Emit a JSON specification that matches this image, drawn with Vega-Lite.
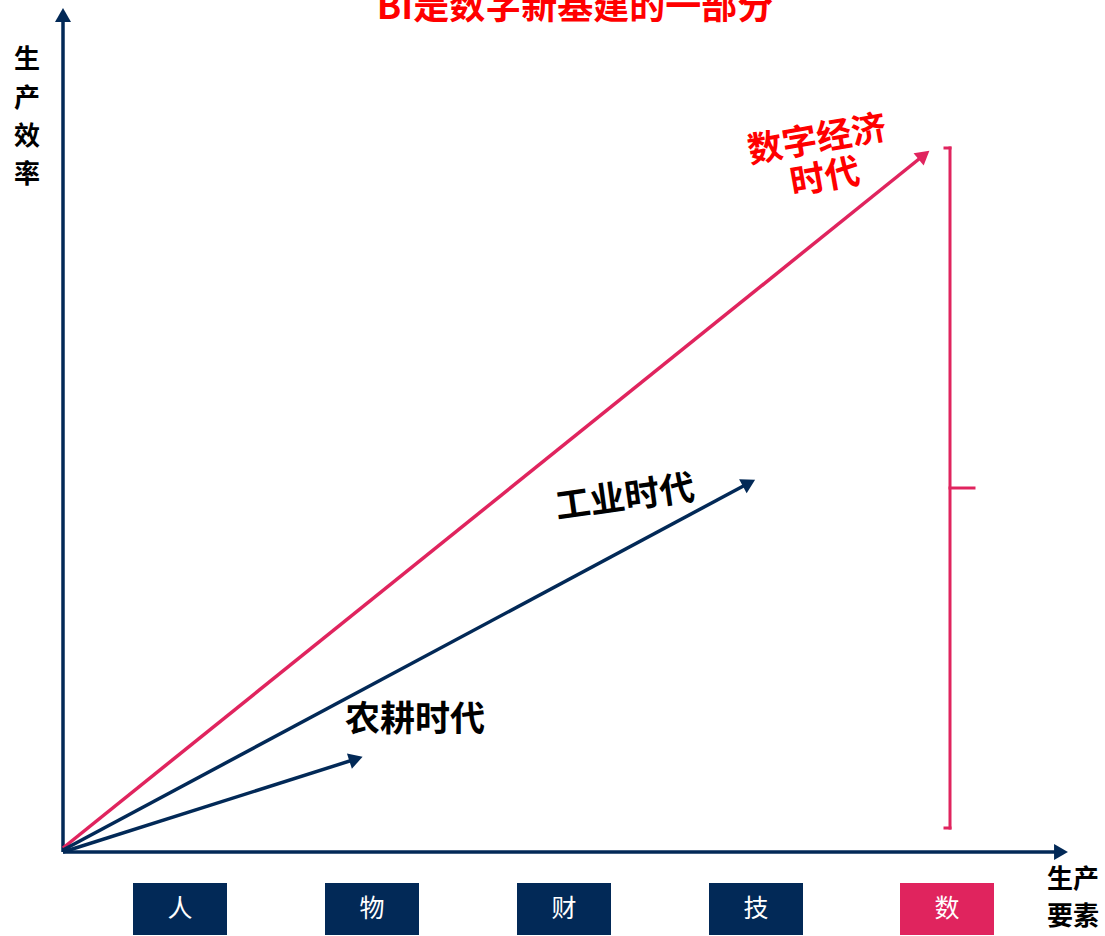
{
  "$schema": "https://vega.github.io/schema/vega-lite/v6.json",
  "autosize": {"type": "none"},
  "width": 1105,
  "height": 936,
  "padding": 0,
  "background": "#ffffff",
  "config": {"view": {"stroke": null}},
  "datasets": {
    "lines": [
      {"part": "生产效率轴", "era": "传统", "x": 0, "y": 0, "x2": 0, "y2": 837, "dir": 0},
      {"part": "生产要素轴", "era": "传统", "x": 0, "y": 0, "x2": 998, "y2": 0, "dir": 90},
      {"part": "数字经济时代", "era": "数字", "x": 0, "y": 4, "x2": 861, "y2": 697, "dir": 51},
      {"part": "工业时代", "era": "传统", "x": 0, "y": 2, "x2": 686, "y2": 369, "dir": 62},
      {"part": "农耕时代", "era": "传统", "x": 0, "y": 0, "x2": 293, "y2": 93, "dir": 72}
    ],
    "bracket": [
      {"x": 887, "y": 24, "x2": 887, "y2": 704},
      {"x": 882, "y": 704, "x2": 887, "y2": 704},
      {"x": 882, "y": 24, "x2": 887, "y2": 24},
      {"x": 887, "y": 364, "x2": 911, "y2": 364}
    ],
    "factors": [
      {"label": "人", "era": "传统", "x": 70, "x2": 164, "cx": 117, "y": -31, "y2": -83, "cy": -57},
      {"label": "物", "era": "传统", "x": 262, "x2": 356, "cx": 309, "y": -31, "y2": -83, "cy": -57},
      {"label": "财", "era": "传统", "x": 454, "x2": 548, "cx": 501, "y": -31, "y2": -83, "cy": -57},
      {"label": "技", "era": "传统", "x": 646, "x2": 740, "cx": 693, "y": -31, "y2": -83, "cy": -57},
      {"label": "数", "era": "数字", "x": 837, "x2": 931, "cx": 884, "y": -31, "y2": -83, "cy": -57}
    ],
    "axisText": [
      {"t": "生", "x": -36, "y": 792},
      {"t": "产", "x": -36, "y": 753},
      {"t": "效", "x": -36, "y": 715},
      {"t": "率", "x": -36, "y": 677},
      {"t": "生产", "x": 1010, "y": -28},
      {"t": "要素", "x": 1010, "y": -65}
    ],
    "eraText": [
      {"t": "农耕时代", "x": 352, "y": 132, "rot": 0},
      {"t": "工业时代", "x": 562, "y": 354, "rot": 352}
    ],
    "digitalText": [
      {"t": "数字经济", "x": 754, "y": 712, "rot": 350},
      {"t": "时代", "x": 762, "y": 674, "rot": 350}
    ],
    "title": [
      {"t": "BI是数字新基建的一部分", "x": 512, "y": 844}
    ]
  },
  "encoding": {
    "x": {"type": "quantitative", "scale": {"domain": [-63, 1042]}, "axis": null},
    "y": {"type": "quantitative", "scale": {"domain": [-84, 852]}, "axis": null}
  },
  "layer": [
    {
      "data": {"name": "lines"},
      "mark": {"type": "rule", "strokeWidth": 3.5, "strokeCap": "butt"},
      "encoding": {
        "x": {"field": "x", "type": "quantitative"},
        "y": {"field": "y", "type": "quantitative"},
        "x2": {"field": "x2"},
        "y2": {"field": "y2"},
        "color": {"field": "era", "type": "nominal", "scale": {"domain": ["传统", "数字"], "range": ["#022957", "#E0245E"]}, "legend": null}
      }
    },
    {
      "data": {"name": "lines"},
      "mark": {"type": "point", "shape": "triangle-up", "filled": true, "size": 256, "opacity": 1},
      "encoding": {
        "x": {"field": "x2", "type": "quantitative"},
        "y": {"field": "y2", "type": "quantitative"},
        "angle": {"field": "dir", "type": "quantitative", "scale": null},
        "color": {"field": "era", "type": "nominal", "legend": null}
      }
    },
    {
      "data": {"name": "bracket"},
      "mark": {"type": "rule", "strokeWidth": 3, "color": "#E0245E", "strokeCap": "square"},
      "encoding": {
        "x": {"field": "x", "type": "quantitative"},
        "y": {"field": "y", "type": "quantitative"},
        "x2": {"field": "x2"},
        "y2": {"field": "y2"}
      }
    },
    {
      "data": {"name": "factors"},
      "mark": {"type": "rect"},
      "encoding": {
        "x": {"field": "x", "type": "quantitative"},
        "x2": {"field": "x2"},
        "y": {"field": "y", "type": "quantitative"},
        "y2": {"field": "y2"},
        "color": {"field": "era", "type": "nominal", "legend": null}
      }
    },
    {
      "data": {"name": "factors"},
      "mark": {"type": "text", "color": "#ffffff", "font": "Noto Sans CJK SC", "fontSize": 25, "align": "center", "baseline": "middle"},
      "encoding": {
        "x": {"field": "cx", "type": "quantitative"},
        "y": {"field": "cy", "type": "quantitative"},
        "text": {"field": "label"}
      }
    },
    {
      "data": {"name": "axisText"},
      "mark": {"type": "text", "color": "#000000", "font": "Noto Sans CJK SC", "fontSize": 26, "fontWeight": "bold", "align": "center", "baseline": "middle"},
      "encoding": {
        "x": {"field": "x", "type": "quantitative"},
        "y": {"field": "y", "type": "quantitative"},
        "text": {"field": "t"}
      }
    },
    {
      "data": {"name": "eraText"},
      "mark": {"type": "text", "color": "#000000", "font": "Noto Sans CJK SC", "fontSize": 35, "fontWeight": "bold", "align": "center", "baseline": "middle"},
      "encoding": {
        "x": {"field": "x", "type": "quantitative"},
        "y": {"field": "y", "type": "quantitative"},
        "angle": {"field": "rot", "type": "quantitative", "scale": null},
        "text": {"field": "t"}
      }
    },
    {
      "data": {"name": "digitalText"},
      "mark": {"type": "text", "color": "#FF0000", "font": "Noto Sans CJK SC", "fontSize": 35, "fontWeight": "bold", "align": "center", "baseline": "middle"},
      "encoding": {
        "x": {"field": "x", "type": "quantitative"},
        "y": {"field": "y", "type": "quantitative"},
        "angle": {"field": "rot", "type": "quantitative", "scale": null},
        "text": {"field": "t"}
      }
    },
    {
      "data": {"name": "title"},
      "mark": {"type": "text", "color": "#FF0000", "font": "Noto Sans CJK SC", "fontSize": 36, "fontWeight": "bold", "align": "center", "baseline": "middle"},
      "encoding": {
        "x": {"field": "x", "type": "quantitative"},
        "y": {"field": "y", "type": "quantitative"},
        "text": {"field": "t"}
      }
    }
  ]
}
